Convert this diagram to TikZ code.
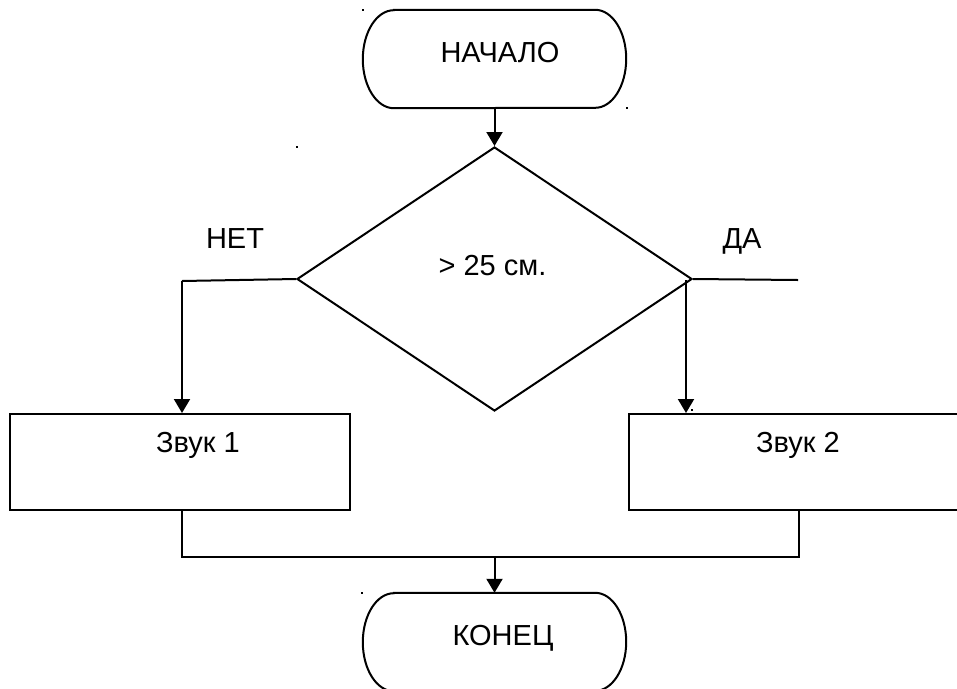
\documentclass[tikz,border=0pt]{standalone}
\usepackage{fontspec}
\setmainfont{Liberation Sans}
\usetikzlibrary{arrows.meta,shapes.geometric}

\tikzset{
  line/.style={line width=2pt, line join=miter},
  arr/.style={line, -{Triangle[length=14pt,width=16pt]}},
  boxnode/.style={draw, line width=2pt, rectangle, minimum width=340pt, minimum height=96pt, inner sep=0pt},
  termframe/.style={rectangle, minimum width=263pt, minimum height=98pt, inner sep=0pt},
  decision/.style={draw, line width=2pt, diamond, minimum width=395pt, minimum height=264pt, inner sep=0pt},
  lbl/.style={anchor=base, inner sep=0pt, font=\fontsize{29}{34}\selectfont},
  speck/.style={fill=black, inner sep=0pt, minimum size=1.6pt},
}

% elliptically-ended terminal outline around a named frame node
\newcommand{\terminaloutline}[1]{%
  \draw[line] ([xshift=31pt]#1.north west) -- ([xshift=-31pt]#1.north east)
    arc[start angle=90, end angle=-90, x radius=31pt, y radius=49pt]
    -- ([xshift=31pt]#1.south west)
    arc[start angle=270, end angle=90, x radius=31pt, y radius=49pt] -- cycle;}

\begin{document}
\begin{tikzpicture}[x=1pt, y=-1pt]
  \clip (0,0) rectangle (957,688);
  \fill[white] (0,0) rectangle (957,688);

  % terminals
  \node[termframe] (start) at (494.5,59) {};
  \terminaloutline{start}
  \node[lbl] (starttxt) at (500,62) {НАЧАЛО};

  \node[termframe] (end) at (494.5,642) {};
  \terminaloutline{end}
  \node[lbl] (endtxt) at (503,645) {КОНЕЦ};

  % decision
  \node[decision] (dec) at (494.5,279) {};
  \node[lbl] (dectxt) at (492.5,275) {> 25 см.};
  \node[lbl] (no) at (235,248) {НЕТ};
  \node[lbl] (yes) at (742,248) {ДА};

  % actions
  \node[boxnode] (box1) at (180,462) {};
  \node[lbl] (box1txt) at (198,452) {Звук 1};
  \node[boxnode] (box2) at (799,462) {};
  \node[lbl] (box2txt) at (798,452) {Звук 2};

  % branch points
  \coordinate (nobend) at (182,281);
  \coordinate (yesend) at (798,280);
  \coordinate (yesfork) at (686,280);
  \coordinate (mergeL) at (182,557);
  \coordinate (mergeR) at (799,557);

  % connectors
  \draw[arr] (start.south -| dec.north) -- (dec.north);
  \draw[line] (dec.west) -- (nobend);
  \draw[arr] (nobend) -- (nobend |- box1.north);
  \draw[line] (dec.east) -- (yesend);
  \draw[arr] (yesfork) -- (yesfork |- box2.north);
  \draw[line] (mergeL |- box1.south) -- (mergeL) -- (mergeR) -- (mergeR |- box2.south);
  \draw[arr] (mergeL -| end.north) -- (end.north);

  % stray frame corner specks
  \node[speck] (s1) at (363,10) {};
  \node[speck] (s2) at (627,108) {};
  \node[speck] (s3) at (297,147) {};
  \node[speck] (s4) at (692,410) {};
  \node[speck] (s5) at (362,593) {};
\end{tikzpicture}
\end{document}
